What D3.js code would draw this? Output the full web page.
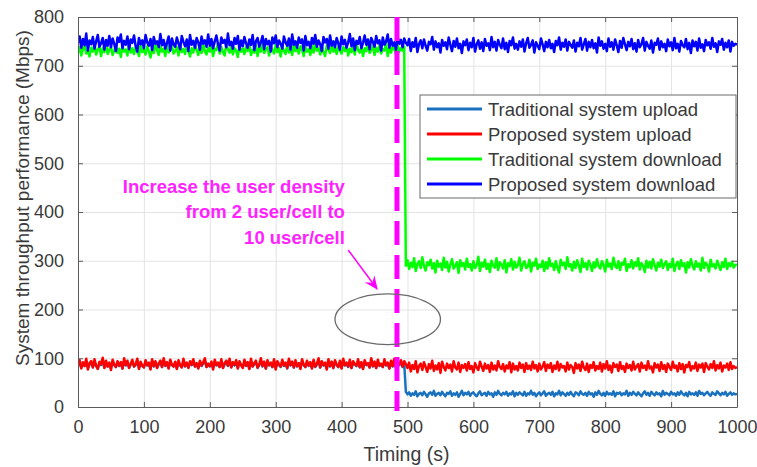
<!DOCTYPE html>
<html><head><meta charset="utf-8">
<script src="https://cdn.jsdelivr.net/npm/d3@7"></script>
<style>
body{margin:0;background:#fff}
text{font-family:"Liberation Sans",Arial,Helvetica,sans-serif}
</style>
</head><body>
<svg id="chart" width="757" height="467"></svg>
<script>
// ---------- data ----------
const xTickValues = [0,100,200,300,400,500,600,700,800,900,1000];
const yTickValues = [0,100,200,300,400,500,600,700,800];
const timing = d3.range(0, 1000.1, 2.5); // sample times (s), 401 samples

const tradUpload = [
85,91,81,88,84,93,80,87,90,82,92,84,79,89,86,94,81,90,83,88,
80,92,86,82,90,84,89,79,93,85,91,81,87,92,83,86,94,80,89,84,
82,91,85,88,79,93,83,90,81,87,91,82,94,84,89,80,92,86,83,90,
79,91,85,82,93,83,88,81,90,86,92,83,87,80,91,84,89,94,82,86,
83,90,80,92,85,88,82,93,81,87,91,84,94,82,89,85,91,80,90,86,
81,92,84,89,79,93,83,88,91,80,86,94,83,90,79,92,85,88,82,93,
80,90,86,82,92,84,89,79,94,85,90,81,92,83,88,80,93,86,82,91,
84,89,80,92,82,87,94,81,90,85,88,79,93,83,90,80,92,86,82,91,
80,94,85,88,82,92,80,90,87,84,93,81,89,79,91,86,88,81,94,83,
90,80,92,84,87,82,93,85,89,79,91,83,94,81,89,86,92,82,90,31,
26,30,23,28,25,32,22,27,29,24,31,26,21,28,30,25,33,23,27,29,
24,31,26,22,29,27,32,23,28,25,30,21,27,33,24,29,26,31,23,28,
30,25,22,28,32,24,27,29,23,31,26,28,21,30,25,33,27,24,29,26,
31,23,28,26,32,22,29,25,30,27,24,31,23,28,26,33,25,29,22,27,
30,24,28,32,23,27,29,25,31,22,28,26,33,24,30,27,23,29,25,31,
26,22,30,28,24,32,27,25,29,23,31,26,28,21,30,25,33,27,24,29,
23,31,26,28,25,32,22,29,27,30,24,28,26,33,23,29,25,31,27,24,
30,26,22,28,32,25,29,23,31,27,24,30,26,28,22,33,25,29,27,24,
31,26,28,23,30,25,32,27,24,29,22,31,26,28,25,30,23,33,27,29,
24,28,31,26,23,30,27,25,32,28,24,29,26,31,23,27,30,25,28,26,
27];

const propUpload = [
86,96,79,92,84,99,77,90,94,81,98,85,78,93,88,101,80,95,83,91,
76,97,87,82,94,85,92,79,100,86,95,80,89,97,83,88,99,78,93,85,
81,96,86,91,77,98,84,94,80,90,95,82,100,85,92,79,97,87,83,93,
78,96,86,81,99,84,91,80,94,87,98,83,90,79,95,85,92,100,82,89,
84,93,77,97,86,91,82,98,80,90,95,85,99,81,92,87,96,79,94,86,
80,97,85,92,78,99,83,90,95,81,87,100,84,93,79,96,86,91,82,98,
77,94,88,83,97,85,91,80,99,86,93,81,96,84,90,78,98,87,82,95,
85,92,79,97,83,89,100,81,94,86,91,77,98,84,93,80,96,87,82,95,
79,99,86,91,83,97,80,94,88,85,98,82,92,78,96,87,90,81,100,84,
93,80,97,85,89,82,98,86,91,79,95,84,99,81,92,87,96,83,94,88,
80,91,73,86,78,94,71,84,89,76,92,82,72,88,79,95,74,85,77,90,
70,93,82,75,89,80,87,73,94,81,77,91,72,86,80,88,75,92,78,84,
71,90,81,76,93,83,74,89,79,86,72,91,77,85,75,94,82,78,88,73,
85,79,92,71,89,77,84,75,91,80,87,72,90,78,85,76,93,79,86,73,
89,77,83,92,74,87,80,90,72,85,78,93,75,88,81,84,73,91,77,86,
82,70,90,79,87,74,93,81,76,89,72,86,80,92,75,84,78,91,73,88,
79,94,76,85,71,90,82,87,74,92,78,84,72,89,80,86,75,93,77,83,
88,73,91,80,85,76,94,79,83,71,90,81,87,74,92,78,86,72,89,82,
76,93,80,85,73,90,78,88,71,86,82,92,75,84,79,91,74,87,81,89,
72,90,83,77,88,80,94,75,86,79,91,73,85,81,89,76,92,78,84,80,
82];

const tradDownload = [
727,738,721,734,742,725,731,719,737,729,744,723,733,740,720,736,728,745,724,732,
739,722,730,743,726,735,718,741,729,733,721,746,727,736,724,738,731,720,742,728,
734,723,740,730,717,737,726,744,732,722,739,729,735,720,743,727,733,741,725,730,
738,721,745,728,734,724,740,731,719,736,727,742,733,722,739,726,744,730,723,737,
729,741,720,735,732,746,725,738,728,721,743,734,727,740,723,736,731,718,742,729,
735,724,739,730,745,722,733,727,741,720,737,729,744,726,734,738,721,740,732,725,
743,728,736,719,739,731,724,742,727,735,722,746,730,737,725,740,733,720,738,729,
734,722,741,727,744,731,736,723,739,728,720,742,733,726,745,729,737,724,740,731,
725,738,730,743,721,735,728,740,723,746,732,727,739,720,736,730,744,726,733,741,
722,737,729,742,725,734,731,745,720,738,727,740,733,724,743,729,736,731,739,290,
301,283,296,287,305,279,293,299,285,307,289,280,297,291,302,284,295,276,300,288,
294,281,306,286,298,278,292,303,284,290,297,275,301,289,295,282,304,287,293,280,
299,285,291,308,279,296,288,302,283,294,277,300,290,286,305,281,297,292,284,301,
276,295,289,303,282,298,286,291,306,280,293,299,285,288,302,278,296,290,304,283,
292,287,300,279,297,284,305,289,294,281,299,286,276,302,291,296,283,307,288,293,
280,298,285,301,290,277,304,287,295,282,300,292,279,297,286,303,289,284,299,291,
278,302,288,294,283,306,290,285,299,281,296,292,304,279,293,287,301,284,297,289,
305,282,295,290,277,300,286,298,284,303,291,280,296,288,302,285,293,299,281,294,
287,304,279,292,298,283,301,289,295,276,297,286,303,290,282,299,288,294,280,306,
285,296,291,278,302,288,293,284,300,290,281,297,287,304,283,295,289,298,286,292,
291];

const propDownload = [
748,760,737,755,742,766,731,752,744,759,735,750,763,739,746,757,733,753,741,761,
738,756,745,730,758,749,764,736,751,743,760,734,754,747,762,740,729,757,744,752,
736,763,748,741,755,732,759,745,750,738,765,742,753,735,747,760,731,756,744,739,
758,746,734,761,749,740,754,730,763,743,751,737,757,748,733,760,745,752,739,764,
741,755,736,750,762,744,731,758,747,753,738,766,742,749,735,757,745,761,733,752,
740,759,746,737,754,743,763,732,750,757,739,748,761,734,755,744,751,729,758,746,
762,738,752,745,735,760,748,741,756,733,764,743,750,737,758,747,754,731,761,742,
749,736,757,745,763,739,752,744,730,759,748,755,735,762,741,750,738,757,746,733,
760,744,753,737,748,765,740,756,732,751,745,759,736,747,762,743,754,734,757,749,
739,761,746,752,731,758,743,750,764,737,755,741,748,733,760,745,753,738,756,747,
742,755,730,748,739,757,728,745,752,736,754,741,731,749,744,759,733,750,738,746,
727,753,741,748,734,758,743,730,751,739,756,736,745,726,750,742,754,732,747,738,
757,729,744,752,735,748,730,755,741,746,732,759,738,749,731,753,743,736,756,734,
747,728,751,742,758,735,745,733,750,739,754,729,746,757,737,743,752,727,748,741,
734,756,744,730,749,738,753,736,745,728,751,742,758,733,747,739,754,731,749,743,
737,752,729,747,740,757,733,744,755,731,749,738,753,736,746,727,758,741,750,735,
745,730,756,739,748,733,754,742,728,751,737,757,744,732,749,740,755,734,746,729,
753,738,744,757,731,749,741,735,752,727,747,743,756,733,750,738,745,730,754,740,
748,732,757,736,745,729,751,742,738,755,734,747,726,752,740,749,731,756,737,744,
730,753,742,748,735,757,739,746,728,750,743,755,733,747,738,752,729,749,741,745,
743];

const seriesNames = ["Traditional system upload","Proposed system upload","Traditional system download","Proposed system download"];
const seriesValues = [tradUpload, propUpload, tradDownload, propDownload];
const seriesColors = ["#1a72bf","#ff0000","#00ff00","#0000ff"];

const markerTime = 484;          // dashed vertical line
const ellipseCenter = [470, 180]; // (s, Mbps)
const ellipseRadii = [80, 52];
const arrowFrom = [410, 322], arrowTo = [455, 240];
const noteLines = ["Increase the user density","from 2 user/cell to","10 user/cell"];
const noteAnchor = [405, 439];

// ---------- chart ----------
const svg = d3.select("#chart");
const L = 78, R = 737, T = 17, B = 407;
const x = d3.scaleLinear().domain([0,1000]).range([L,R]);
const y = d3.scaleLinear().domain([0,800]).range([B,T]);
const axisColor = "#5a5a5a", textColor = "#3a3a3a";
const fmt = d3.format("d");

svg.append("defs").append("clipPath").attr("id","clip")
  .append("rect").attr("x",L).attr("y",T).attr("width",R-L).attr("height",B-T);

// grid
svg.append("g").attr("transform",`translate(0,${B})`)
  .call(d3.axisBottom(x).tickValues(xTickValues).tickSize(-(B-T)).tickFormat(""))
  .call(g=>{g.select(".domain").remove(); g.selectAll("line").attr("stroke","#e3e3e3").attr("stroke-width",1);});
svg.append("g").attr("transform",`translate(${L},0)`)
  .call(d3.axisLeft(y).tickValues(yTickValues).tickSize(-(R-L)).tickFormat(""))
  .call(g=>{g.select(".domain").remove(); g.selectAll("line").attr("stroke","#e3e3e3").attr("stroke-width",1);});

// data lines
const plot = svg.append("g").attr("clip-path","url(#clip)");
const line = d3.line().x((d,i)=>x(timing[i])).y(d=>y(d));
seriesValues.forEach((vals,k)=>{
  plot.append("path").datum(vals).attr("d",line)
    .attr("fill","none").attr("stroke",seriesColors[k])
    .attr("stroke-width",2.5).attr("stroke-linejoin","round");
});

// axes (box with inward ticks)
function styleAxis(g){ g.select(".domain").attr("stroke",axisColor).attr("stroke-width",1);
  g.selectAll(".tick line").attr("stroke",axisColor);
  g.selectAll("text").attr("fill",textColor).style("font-size","18px"); }
svg.append("g").attr("transform",`translate(0,${B})`)
  .call(d3.axisBottom(x).tickValues(xTickValues).tickFormat(fmt).tickSizeInner(-5).tickSizeOuter(0).tickPadding(13))
  .call(styleAxis);
svg.append("g").attr("transform",`translate(${L},0)`)
  .call(d3.axisLeft(y).tickValues(yTickValues).tickFormat(fmt).tickSizeInner(-5).tickSizeOuter(0).tickPadding(14))
  .call(styleAxis);
svg.append("g").attr("transform",`translate(0,${T})`)
  .call(d3.axisTop(x).tickValues(xTickValues).tickSizeInner(-5).tickSizeOuter(0).tickFormat(""))
  .call(styleAxis);
svg.append("g").attr("transform",`translate(${R},0)`)
  .call(d3.axisRight(y).tickValues(yTickValues).tickSizeInner(-5).tickSizeOuter(0).tickFormat(""))
  .call(styleAxis);

// axis labels
svg.append("text").attr("x",(L+R)/2-1).attr("y",461).attr("text-anchor","middle")
  .attr("fill",textColor).style("font-size","19.5px").text("Timing (s)");
svg.append("text").attr("transform",`translate(29,198) rotate(-90)`).attr("text-anchor","middle")
  .attr("fill",textColor).style("font-size","19px").text("System throughput performance (Mbps)");

// dashed marker
svg.append("line").attr("x1",x(markerTime)).attr("x2",x(markerTime))
  .attr("y1",y(800)).attr("y2",y(0)+4)
  .attr("stroke","#ff00ff").attr("stroke-width",5).attr("stroke-dasharray","24,10");

// ellipse
svg.append("ellipse").attr("cx",x(ellipseCenter[0])).attr("cy",y(ellipseCenter[1]))
  .attr("rx",x(ellipseRadii[0])-x(0)).attr("ry",y(0)-y(ellipseRadii[1]))
  .attr("fill","none").attr("stroke","#6a6a6a").attr("stroke-width",1.3);

// arrow
const ax0=x(arrowFrom[0]), ay0=y(arrowFrom[1]), ax1=x(arrowTo[0]), ay1=y(arrowTo[1]);
const ang=Math.atan2(ay1-ay0, ax1-ax0);
svg.append("line").attr("x1",ax0).attr("y1",ay0)
  .attr("x2",ax1-9*Math.cos(ang)).attr("y2",ay1-9*Math.sin(ang))
  .attr("stroke","#ff00ff").attr("stroke-width",1.5);
const hl=14, hw=6;
const bx=ax1-hl*Math.cos(ang), by=ay1-hl*Math.sin(ang);
const nx=-Math.sin(ang), ny=Math.cos(ang);
const mx=ax1-0.65*hl*Math.cos(ang), my=ay1-0.65*hl*Math.sin(ang);
svg.append("path").attr("d",`M${ax1},${ay1}L${bx+hw*nx},${by+hw*ny}L${mx},${my}L${bx-hw*nx},${by-hw*ny}Z`)
  .attr("fill","#ff00ff");

// annotation text
noteLines.forEach((t,i)=>{
  svg.append("text").attr("x",x(noteAnchor[0])).attr("y",y(noteAnchor[1])+i*25.5)
    .attr("text-anchor","end").attr("fill","#ff22ff").style("font-size","18.5px")
    .style("font-weight","bold").text(t);
});

// legend
const lg = svg.append("g");
lg.append("rect").attr("x",420).attr("y",95).attr("width",316).attr("height",103)
  .attr("fill","#fff").attr("stroke","#6a6a6a").attr("stroke-width",1);
seriesNames.forEach((n,i)=>{
  const yy = 109 + i*25;
  lg.append("line").attr("x1",427).attr("x2",482).attr("y1",yy).attr("y2",yy)
    .attr("stroke",seriesColors[i]).attr("stroke-width",3);
  lg.append("text").attr("x",488).attr("y",yy+6.5).attr("fill",textColor)
    .style("font-size","18.5px").text(n);
});
</script>
</body></html>
